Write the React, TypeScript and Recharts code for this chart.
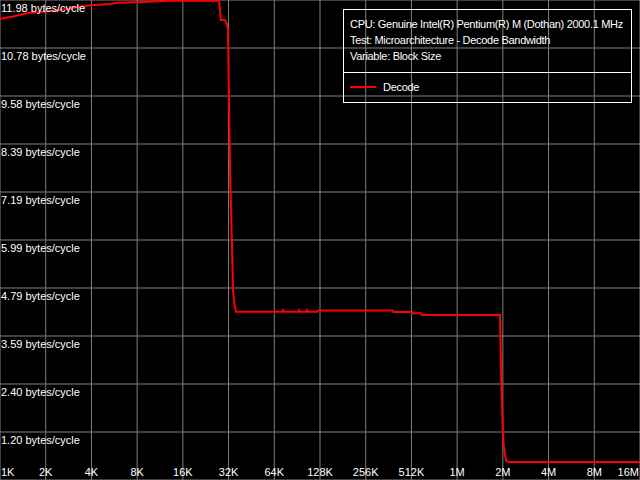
import React from 'react';
import { LineChart, Line, XAxis, YAxis, CartesianGrid, Legend } from 'recharts';

// block size in KB (log axis) and measured decode bandwidth
const blockSizesKB = [
  1, 1.2, 1.5, 2, 2.8, 3.9, 5.3, 6, 8.7, 12.8, 27.7,
  28.1, 28.5, 30.3, 30.8, 31.3, 31.7, 32.2, 32.7, 33.2, 33.7, 34.2, 34.8, 35.3, 35.8,
  72, 73, 74, 92, 93, 94, 104, 105, 106, 123, 124,
  387, 390, 516, 520, 592, 600, 1961,
  1991, 2021, 2052, 2083, 2114, 2146, 2212, 16384,
];
const decodeBytesPerCycle = [
  11.51, 11.56, 11.65, 11.69, 11.76, 11.85, 11.88, 11.91, 11.93, 11.96, 11.96,
  11.73, 11.48, 11.48, 11.43, 11.36, 11.23, 9.51, 7.76, 6.81, 5.87, 4.77, 4.47, 4.3, 4.2,
  4.2, 4.24, 4.2, 4.2, 4.24, 4.2, 4.2, 4.24, 4.2, 4.2, 4.23,
  4.23, 4.19, 4.19, 4.16, 4.16, 4.12, 4.12,
  2.75, 1.9, 1.1, 0.82, 0.65, 0.5, 0.45, 0.45,
];

const xTicks = [1, 2, 4, 8, 16, 32, 64, 128, 256, 512, 1024, 2048, 4096, 8192, 16384];
const xTickLabels = ['1K', '2K', '4K', '8K', '16K', '32K', '64K', '128K', '256K', '512K', '1M', '2M', '4M', '8M', '16M'];
const yTicks = [1.198, 2.396, 3.594, 4.792, 5.99, 7.188, 8.386, 9.584, 10.782, 11.98];

const infoLines = [
  'CPU: Genuine Intel(R) Pentium(R) M (Dothan) 2000.1 MHz',
  'Test: Microarchitecture - Decode Bandwidth',
  'Variable: Block Size',
];

const chartData = blockSizesKB.map((size, i) => ({ size, decode: decodeBytesPerCycle[i] }));

const FONT = '"Liberation Sans", Arial, sans-serif';

const XTick = (props: any) => {
  const { x, payload } = props;
  const i = xTicks.indexOf(payload.value);
  const last = xTicks.length - 1;
  const anchor = i === 0 ? 'start' : i === last ? 'end' : 'middle';
  const dx = i === 0 ? 1 : i === last ? -1 : 0;
  return (
    <text x={x + dx} y={476} textAnchor={anchor} fill="#fff" fontSize={11} fontFamily={FONT}>
      {xTickLabels[i]}
    </text>
  );
};

const YTick = (props: any) => {
  const { y, payload } = props;
  return (
    <text x={1} y={y + 12} textAnchor="start" fill="#fff" fontSize={11} fontFamily={FONT}>
      {`${payload.value.toFixed(2)} bytes/cycle`}
    </text>
  );
};

const InfoLegend = (props: any) => {
  const { payload = [] } = props;
  return (
    <div
      style={{
        width: 287,
        height: 92,
        border: '1px solid #fff',
        position: 'relative',
        fontFamily: FONT,
        fontSize: 11,
        letterSpacing: '-0.3px',
        color: '#fff',
        lineHeight: '16px',
      }}
    >
      <div style={{ position: 'absolute', left: 6, top: 6 }}>
        {infoLines.map((line) => (
          <div key={line} style={{ whiteSpace: 'nowrap' }}>{line}</div>
        ))}
      </div>
      <div style={{ position: 'absolute', left: 0, right: 0, top: 62, borderTop: '1px solid #fff' }} />
      {payload.map((entry: any) => (
        <div key={entry.value} style={{ position: 'absolute', left: 6, top: 69, display: 'flex', alignItems: 'center' }}>
          <span style={{ display: 'inline-block', width: 26, height: 2, background: entry.color, marginRight: 7 }} />
          <span>{entry.value}</span>
        </div>
      ))}
    </div>
  );
};

export default function App() {
  return (
    <div style={{ position: 'absolute', left: 0, top: 0, width: 640, height: 480, background: '#000' }}>
      <LineChart width={640} height={480} data={chartData} margin={{ top: 0, right: 0, bottom: 0, left: 0 }}>
        <CartesianGrid stroke="#808080" strokeWidth={1} />
        <XAxis
          dataKey="size"
          type="number"
          scale="log"
          domain={[1, 16384]}
          ticks={xTicks}
          mirror
          axisLine={false}
          tickLine={false}
          interval={0}
          tick={<XTick />}
          allowDataOverflow
        />
        <YAxis
          type="number"
          domain={[0, 11.98]}
          ticks={yTicks}
          mirror
          axisLine={false}
          tickLine={false}
          interval={0}
          tick={<YTick />}
          allowDataOverflow
        />
        <Legend
          layout="vertical"
          verticalAlign="middle"
          align="center"
          content={<InfoLegend />}
          wrapperStyle={{ left: 343, top: 9, width: 289, height: 94 }}
        />
        <Line
          type="linear"
          dataKey="decode"
          name="Decode"
          stroke="#ff0000"
          strokeWidth={2}
          dot={false}
          activeDot={false}
          isAnimationActive={false}
        />
      </LineChart>
    </div>
  );
}
